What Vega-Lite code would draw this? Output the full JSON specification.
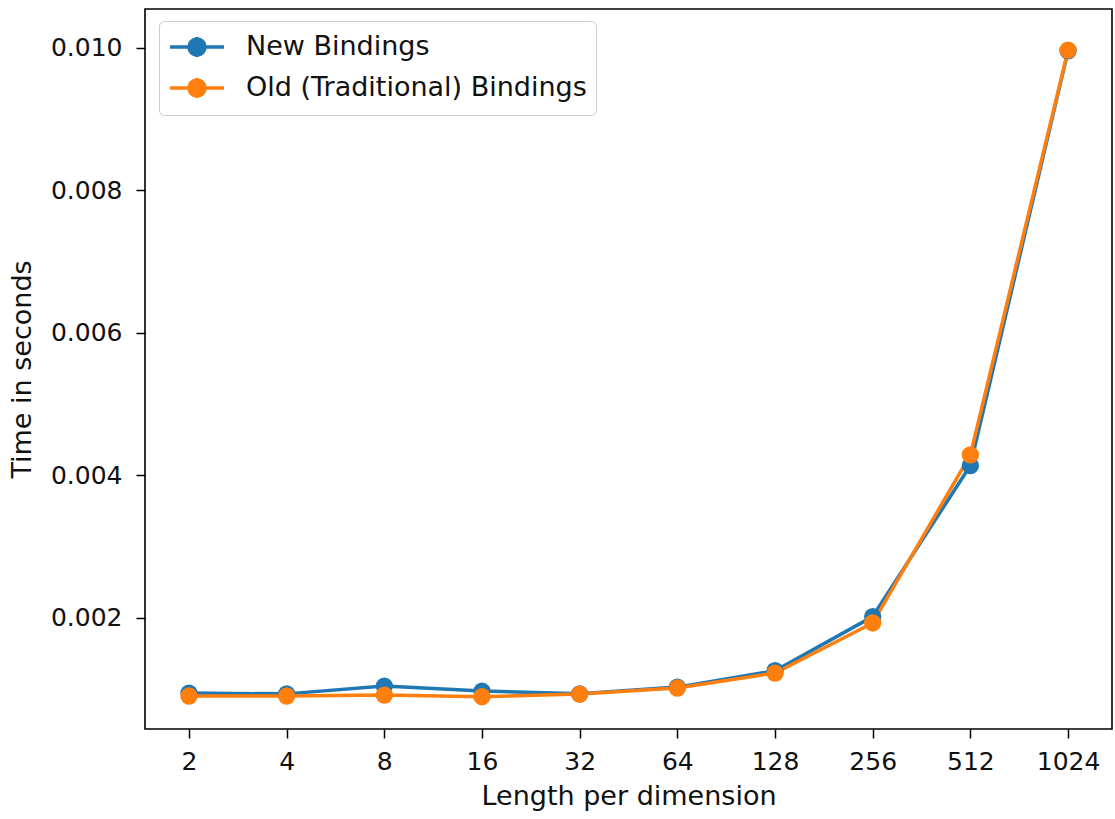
{
  "$schema": "https://vega.github.io/schema/vega-lite/v6.json",
  "autosize": {"type": "none"},
  "padding": {"left": 145, "top": 9, "right": 3, "bottom": 90},
  "width": 967,
  "height": 720,
  "background": "white",
  "config": {
    "font": "DejaVu Sans",
    "view": {"stroke": "black", "strokeWidth": 1.6},
    "axis": {
      "domain": false,
      "grid": false,
      "tickColor": "black",
      "tickWidth": 1.5,
      "tickSize": 9,
      "labelColor": "#111111",
      "labelFont": "DejaVu Sans",
      "labelFontSize": 25,
      "titleColor": "#111111",
      "titleFont": "DejaVu Sans",
      "titleFontSize": 27,
      "titleFontWeight": "normal"
    }
  },
  "data": {
    "values": [
      {"n": 2, "series": "New Bindings", "time": 0.000946},
      {"n": 4, "series": "New Bindings", "time": 0.000935},
      {"n": 8, "series": "New Bindings", "time": 0.001045},
      {"n": 16, "series": "New Bindings", "time": 0.000974},
      {"n": 32, "series": "New Bindings", "time": 0.000936},
      {"n": 64, "series": "New Bindings", "time": 0.00103},
      {"n": 128, "series": "New Bindings", "time": 0.00126},
      {"n": 256, "series": "New Bindings", "time": 0.00202},
      {"n": 512, "series": "New Bindings", "time": 0.00414},
      {"n": 1024, "series": "New Bindings", "time": 0.00996},
      {"n": 2, "series": "Old (Traditional) Bindings", "time": 0.000905},
      {"n": 4, "series": "Old (Traditional) Bindings", "time": 0.000905},
      {"n": 8, "series": "Old (Traditional) Bindings", "time": 0.000918},
      {"n": 16, "series": "Old (Traditional) Bindings", "time": 0.000895},
      {"n": 32, "series": "Old (Traditional) Bindings", "time": 0.000932},
      {"n": 64, "series": "Old (Traditional) Bindings", "time": 0.001017},
      {"n": 128, "series": "Old (Traditional) Bindings", "time": 0.001227},
      {"n": 256, "series": "Old (Traditional) Bindings", "time": 0.00193},
      {"n": 512, "series": "Old (Traditional) Bindings", "time": 0.00429},
      {"n": 1024, "series": "Old (Traditional) Bindings", "time": 0.00997}
    ]
  },
  "encoding": {
    "x": {
      "field": "n",
      "type": "quantitative",
      "scale": {"type": "log", "base": 2, "domain": [1.464, 1398.8], "nice": false, "zero": false},
      "axis": {"values": [2, 4, 8, 16, 32, 64, 128, 256, 512, 1024], "format": "d", "labelPadding": 11, "title": "Length per dimension", "titlePadding": 9}
    },
    "y": {
      "field": "time",
      "type": "quantitative",
      "scale": {"domain": [0.000442, 0.010547], "nice": false, "zero": false},
      "axis": {"values": [0.002, 0.004, 0.006, 0.008, 0.01], "format": ".3f", "labelPadding": 14, "title": "Time in seconds", "titlePadding": 14}
    },
    "color": {
      "field": "series",
      "type": "nominal",
      "scale": {"domain": ["New Bindings", "Old (Traditional) Bindings"], "range": ["#1f77b4", "#ff7f0e"]},
      "legend": {
        "title": null,
        "orient": "none",
        "legendX": 14,
        "legendY": 12,
        "padding": 9,
        "strokeColor": "#cccccc",
        "fillColor": "white",
        "cornerRadius": 5,
        "symbolType": "M-1,0H2.6M0.8,-0.667V0.667M1.333,0A0.533,0.533,0,1,1,0.267,0A0.533,0.533,0,1,1,1.333,0Z",
        "symbolSize": 900,
        "symbolStrokeWidth": 3.5,
        "labelFontSize": 27,
        "labelFont": "DejaVu Sans",
        "labelColor": "#111111",
        "labelOffset": 44,
        "labelLimit": 600,
        "rowPadding": 5,
        "encode": {
          "symbols": {
            "update": {
              "fill": {"scale": "color", "field": "value"},
              "stroke": {"scale": "color", "field": "value"},
              "opacity": {"value": 1}
            }
          }
        }
      }
    }
  },
  "layer": [
    {"mark": {"type": "line", "strokeWidth": 3.5}},
    {"mark": {"type": "point", "filled": true, "size": 300, "opacity": 1}}
  ]
}
